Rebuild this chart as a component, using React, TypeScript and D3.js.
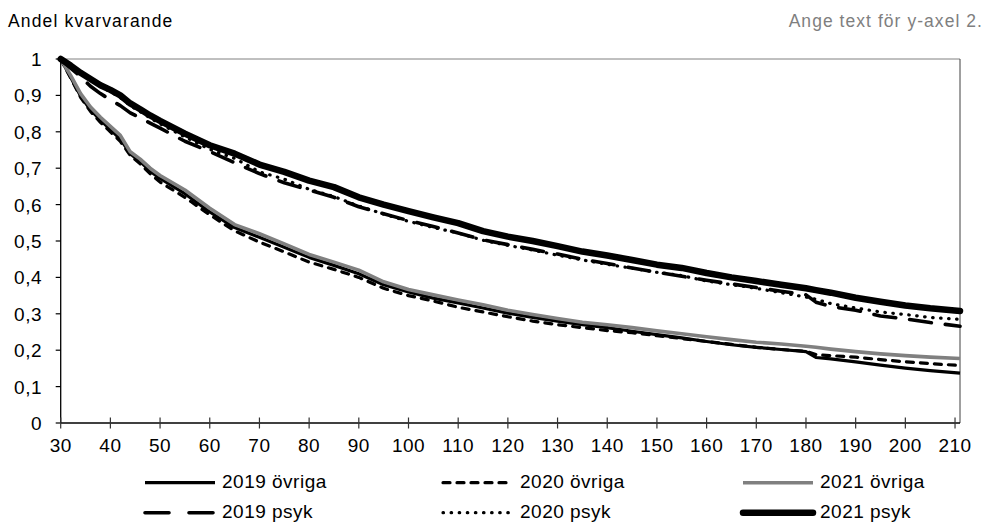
import React from "react";
import * as d3 from "d3";

// dagar sedan start (x-axeln)
const days = [
  30, 32, 34, 36, 38, 40, 42, 44, 46, 48, 50, 55, 60, 65, 70, 75, 80, 85, 90,
  95, 100, 105, 110, 115, 120, 125, 130, 135, 140, 145, 150, 155, 160, 165,
  170, 175, 180, 182, 185, 190, 195, 200, 205, 211,
];

const ovriga2019 = [
  1.0, 0.95, 0.898, 0.86, 0.832, 0.806, 0.78, 0.74, 0.718, 0.692, 0.672, 0.63,
  0.58, 0.537, 0.51, 0.483, 0.455, 0.433, 0.41, 0.38, 0.36, 0.343, 0.33, 0.316,
  0.302, 0.29, 0.28, 0.27, 0.262, 0.252, 0.243, 0.234, 0.224, 0.215, 0.208,
  0.202, 0.196, 0.18, 0.176, 0.168, 0.159, 0.151, 0.144, 0.137,
];
const ovriga2020 = [
  1.0, 0.948, 0.895, 0.856, 0.826, 0.8, 0.774, 0.735, 0.712, 0.685, 0.662,
  0.62, 0.572, 0.528, 0.497, 0.47, 0.442, 0.422, 0.4, 0.37, 0.35, 0.335, 0.318,
  0.305, 0.292, 0.28, 0.27, 0.262, 0.254, 0.248, 0.24, 0.232, 0.224, 0.216,
  0.208, 0.202, 0.197, 0.188, 0.185, 0.181, 0.174, 0.168, 0.163, 0.158,
];
const ovriga2021 = [
  1.0, 0.955, 0.905, 0.868, 0.84, 0.815, 0.79, 0.745, 0.725, 0.7, 0.68, 0.64,
  0.59, 0.545, 0.52, 0.492, 0.463, 0.442, 0.42, 0.388, 0.367, 0.352, 0.338,
  0.325, 0.31, 0.298, 0.287, 0.277, 0.27, 0.262, 0.253, 0.245, 0.237, 0.229,
  0.222, 0.217, 0.211, 0.208, 0.203, 0.196, 0.19, 0.185, 0.181, 0.177,
];
const psyk2019 = [
  1.0, 0.975, 0.952, 0.925, 0.905, 0.888, 0.872, 0.852, 0.838, 0.824, 0.81,
  0.774, 0.746, 0.715, 0.685, 0.66, 0.64, 0.62, 0.594, 0.575, 0.556, 0.54,
  0.522, 0.503, 0.49, 0.477, 0.464, 0.45, 0.438, 0.426, 0.414, 0.403, 0.392,
  0.382, 0.372, 0.362, 0.352, 0.332, 0.32, 0.31, 0.294, 0.286, 0.276, 0.266,
];
const psyk2020 = [
  1.0, 0.98, 0.96, 0.942, 0.924, 0.91, 0.894, 0.872, 0.855, 0.838, 0.822,
  0.786, 0.752, 0.727, 0.69, 0.67, 0.642, 0.622, 0.596, 0.574, 0.554, 0.537,
  0.522, 0.502, 0.488, 0.475, 0.461, 0.448, 0.436, 0.425, 0.414, 0.405, 0.39,
  0.38, 0.37, 0.358, 0.346, 0.34, 0.328, 0.316, 0.305, 0.298, 0.29, 0.285,
];
const psyk2021 = [
  1.0, 0.982, 0.962, 0.945, 0.928, 0.915, 0.9, 0.878, 0.862, 0.845, 0.83,
  0.795, 0.763, 0.74, 0.71, 0.69, 0.666, 0.648, 0.62, 0.6, 0.582, 0.565, 0.549,
  0.527, 0.512, 0.5, 0.486, 0.471, 0.46, 0.448, 0.435, 0.426, 0.412, 0.4, 0.39,
  0.38, 0.37, 0.365, 0.358, 0.344, 0.333, 0.323, 0.315, 0.308,
];

const seriesNames = [
  "2019 övriga",
  "2020 övriga",
  "2021 övriga",
  "2019 psyk",
  "2020 psyk",
  "2021 psyk",
];
const seriesValues = [
  ovriga2019,
  ovriga2020,
  ovriga2021,
  psyk2019,
  psyk2020,
  psyk2021,
];

// linjestilar per serie (samma ordning som namnen)
const styles = [
  { color: "#000", width: 3.2, dash: null, legendDash: null, cap: "butt" },
  { color: "#000", width: 3.2, dash: "7,7", legendDash: "7,7", cap: "round" },
  { color: "#808080", width: 3.6, dash: null, legendDash: null, cap: "butt" },
  { color: "#000", width: 3.6, dash: "22,14", legendDash: "24,20", cap: "round" },
  { color: "#000", width: 3.2, dash: "0.5,7.5", legendDash: "0.5,7.6", cap: "round" },
  { color: "#000", width: 6.5, dash: null, legendDash: null, cap: "round" },
];

const yTitle = "Andel kvarvarande";
const y2Title = "Ange text för y-axel 2.";

const W = 992;
const H = 523;
const left = 60.7;
const right = 960;
const top = 59;
const bottom = 423;

const FONT = "'Liberation Sans', Arial, sans-serif";

const App = () => {
  const x = d3.scaleLinear().domain([30, 211]).range([left, right]);
  const y = d3.scaleLinear().domain([0, 1]).range([bottom, top]);

  const xTicks = d3.range(30, 211, 10);
  const yTicks = y.ticks(10);
  const sv = d3.formatLocale({
    decimal: ",",
    thousands: " ",
    grouping: [3],
    currency: ["", " kr"],
  });
  const fmt = sv.format(".1~f");

  const line = d3
    .line<number>()
    .x((_, i) => x(days[i]))
    .y((d) => y(d));

  // förklaring: 3 kolumner x 2 rader
  const legendCols = [145, 443, 743];
  const legendRows = [482.7, 512.7];

  return (
    <svg
      width={W}
      height={H}
      style={{ position: "absolute", left: 0, top: 0, background: "#fff" }}
      fontFamily={FONT}
    >
      <rect width={W} height={H} fill="#fff" />
      <text x={8} y={27.3} fontSize={17.5} letterSpacing={1.15} fill="#000">
        {yTitle}
      </text>
      <text
        x={983}
        y={27.3}
        fontSize={17.5}
        letterSpacing={1.05}
        textAnchor="end"
        fill="#7f7f7f"
      >
        {y2Title}
      </text>

      {/* ram */}
      <line x1={left} x2={right} y1={top} y2={top} stroke="#808080" strokeWidth={1} />
      <line x1={right} x2={right} y1={top} y2={bottom} stroke="#404040" strokeWidth={1} />

      {/* serier */}
      {seriesValues.map((vals, i) => (
        <path
          key={seriesNames[i]}
          d={line(vals) || ""}
          fill="none"
          stroke={styles[i].color}
          strokeWidth={styles[i].width}
          strokeDasharray={styles[i].dash || undefined}
          strokeLinecap={styles[i].cap as any}
          strokeLinejoin="round"
        />
      ))}

      {/* y-axel */}
      <line x1={left} x2={left} y1={top} y2={bottom} stroke="#000" strokeWidth={1.3} />
      {yTicks.map((t) => (
        <g key={"y" + t}>
          <line x1={left - 5} x2={left} y1={y(t)} y2={y(t)} stroke="#000" strokeWidth={1.2} />
          <text
            x={42}
            y={y(t) + 7}
            fontSize={19}
            letterSpacing={0.5}
            textAnchor="end"
            fill="#000"
          >
            {fmt(t)}
          </text>
        </g>
      ))}

      {/* x-axel */}
      <line x1={left} x2={right} y1={bottom} y2={bottom} stroke="#000" strokeWidth={1.3} />
      {xTicks.map((t) => (
        <g key={"x" + t}>
          <line
            x1={x(t)}
            x2={x(t)}
            y1={bottom - 5.5}
            y2={bottom + 5.5}
            stroke="#333"
            strokeWidth={1.2}
          />
          <text
            x={x(t)}
            y={452}
            fontSize={19}
            letterSpacing={0.5}
            textAnchor="middle"
            fill="#000"
          >
            {t}
          </text>
        </g>
      ))}

      {/* förklaring */}
      {seriesNames.map((name, i) => {
        const cx = legendCols[i % 3];
        const cy = legendRows[Math.floor(i / 3)];
        const s = styles[i];
        return (
          <g key={"leg" + name}>
            <line
              x1={cx}
              x2={cx + 70}
              y1={cy}
              y2={cy}
              stroke={s.color}
              strokeWidth={s.width}
              strokeDasharray={s.legendDash || undefined}
              strokeLinecap={s.cap as any}
            />
            <text
              x={cx + 77}
              y={cy + 5.6}
              fontSize={19}
              letterSpacing={0.5}
              fill="#000"
            >
              {name}
            </text>
          </g>
        );
      })}
    </svg>
  );
};

export default App;
